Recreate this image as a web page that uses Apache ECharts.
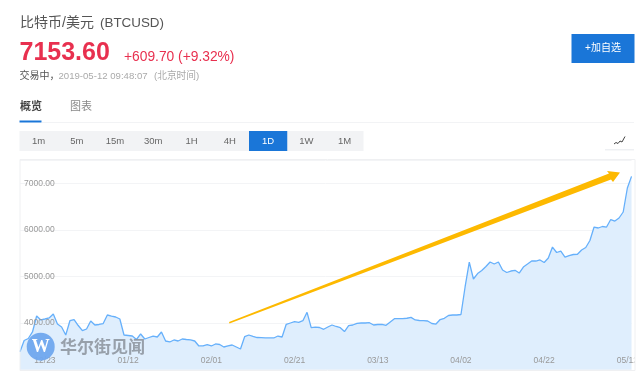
<!DOCTYPE html>
<html>
<head>
<meta charset="utf-8">
<style>
html, body { margin: 0; padding: 0; background: #fff; overflow: hidden; }
#chart { width: 641px; height: 377px; }
</style>
<script src="https://cdn.jsdelivr.net/npm/echarts@6/dist/echarts.min.js"></script>
</head>
<body>
<div id="chart"></div>
<script>
const startDate = Date.UTC(2018, 11, 17);
const prices = [
  3383, 3624, 3667, 3807, 4150, 4065, 4086, 4108, 4194, 3978,
  3914, 3742, 4049, 4075, 3946, 3834, 3871, 4043, 3957, 3968,
  3989, 4172, 4150, 4129, 4086, 3742, 3731, 3720, 3645, 3764,
  3656, 3688, 3720, 3699, 3807, 3613, 3592, 3635, 3613, 3656,
  3645, 3635, 3613, 3506, 3506, 3533, 3506, 3549, 3538, 3484,
  3506, 3527, 3484, 3441, 3705, 3742, 3710, 3688, 3684, 3678,
  3678, 3678, 3720, 3699, 3972, 4000, 4028, 4015, 4049, 4230,
  3899, 3910, 3903, 3865, 3914, 3957, 3925, 3899, 3817, 3942,
  3957, 3994, 4000, 4000, 4006, 3957, 3968, 3972, 3951, 4022,
  4092, 4092, 4092, 4102, 4122, 4065, 4054, 4049, 4043, 3989,
  3978, 4075, 4101, 4161, 4172, 4172, 4183, 4780, 5311, 4946,
  5064, 5129, 5215, 5311, 5268, 5311, 5140, 5086, 5118, 5133,
  5075, 5204, 5268, 5333, 5333, 5355, 5301, 5397, 5634, 5516,
  5548, 5419, 5451, 5473, 5477, 5569, 5623, 5774, 6064, 6043,
  6075, 6064, 6225, 6193, 6258, 6387, 6903, 7153.6
];
const days = prices.map((_, i) => {
  const d = new Date(startDate + i * 86400000);
  return String(d.getUTCMonth() + 1).padStart(2, '0') + '/' + String(d.getUTCDate()).padStart(2, '0');
});
const rangeLabels = ['1m', '5m', '15m', '30m', '1H', '4H', '1D', '1W', '1M'];
const activeRange = '1D';

const FONT = '"Liberation Sans", "Noto Sans CJK SC", sans-serif';
const BLUE = '#1a76d8';
const RED = '#e8304f';

function text(x, y, str, size, fill, extra) {
  return {
    type: 'text', x, y,
    style: Object.assign({ text: str, fontSize: size, fill, fontFamily: FONT, textVerticalAlign: 'middle' }, extra)
  };
}

function rect(x, y, width, height, fill) {
  return { type: 'rect', shape: { x, y, width, height }, style: { fill } };
}

const header = [
  text(20, 23, '比特币/美元', 14, '#555'),
  text(100, 23, '(BTCUSD)', 13.4, '#555'),
  text(19.5, 53, '7153.60', 25, RED, { fontWeight: 'bold' }),
  text(124, 57, '+609.70 (+9.32%)', 13.8, RED),
  text(19.5, 76, '交易中，', 10, '#555'),
  text(58.5, 76, '2019-05-12 09:48:07', 9.6, '#aaa'),
  text(154, 76, '(北京时间)', 9.7, '#aaa'),
  text(20, 107, '概览', 11, '#444', { fontWeight: 'bold' }),
  text(70, 107, '图表', 11, '#888'),
  rect(19.5, 120.5, 22, 2, BLUE),
  rect(42, 122, 592, 1, '#f2f3f5'),
  rect(571.5, 34, 63, 29, BLUE),
  text(603, 48.5, '+加自选', 10, '#fff', { textAlign: 'center' })
];

const rangeBar = [rect(19.5, 131, 344, 20, '#f2f3f5')];
rangeLabels.forEach((label, i) => {
  const on = label === activeRange;
  if (on) rangeBar.push(rect(19.5 + i * 38.25, 131, 38.25, 20, BLUE));
  rangeBar.push(text(38.5 + i * 38.25, 141.5, label, 9.5, on ? '#fff' : '#666', { textAlign: 'center' }));
});

const iconButton = [
  rect(605, 131, 29, 18, '#fff'),
  rect(605, 149, 29, 1.5, '#eef0f3'),
  {
    type: 'polyline',
    shape: { points: [[614, 144], [616, 142.5], [618, 143.5], [620, 141], [622, 142], [625, 136.5]] },
    style: { stroke: '#444', lineWidth: 1, fill: null }
  }
];

// the page cuts the chart canvas off at its right edge, through the last date label
const rightMask = [Object.assign(rect(634.5, 155, 7, 222, '#fff'), { z: 90 })];

const frame = [{
  type: 'rect',
  z: 91,
  shape: { x: 20, y: 159.5, width: 615, height: 211 },
  style: { fill: null, stroke: '#eff0f2', lineWidth: 1 }
}];

const arrow = [{
  type: 'polygon',
  z: 100,
  shape: { points: [[229, 322], [609, 173.5], [607, 171], [620, 172.5], [613, 182], [611, 179.5], [229.5, 323.5]] },
  style: { fill: '#fdb900' }
}];

const watermark = [
  { type: 'circle', z: 100, shape: { cx: 40.7, cy: 346.7, r: 14 }, style: { fill: '#6fa6ee', opacity: 0.95 } },
  Object.assign(text(40.7, 347, 'W', 18, '#fff', { textAlign: 'center', fontWeight: 'bold', fontFamily: '"Liberation Serif", serif' }), { z: 101 }),
  Object.assign(text(60, 347, '华尔街见闻', 17, '#8b929b', { fontWeight: 'bold', fontFamily: '"Noto Sans CJK SC", sans-serif', opacity: 0.85 }), { z: 101 })
];

const valueAxisBase = {
  type: 'value',
  min: 3000,
  max: 7500,
  interval: 1000,
  position: 'left',
  axisLine: { show: false },
  axisTick: { show: false }
};

const chart = echarts.init(document.getElementById('chart'), null, { renderer: 'canvas' });
chart.setOption({
  animation: false,
  grid: { left: 20, right: 8, top: 160.25, bottom: 7.5, containLabel: false },
  xAxis: {
    type: 'category',
    data: days,
    boundaryGap: false,
    z: 5,
    axisLine: { show: false },
    axisTick: { show: false },
    axisLabel: {
      inside: true,
      margin: 5,
      color: '#999',
      fontSize: 8.5,
      fontFamily: FONT,
      hideOverlap: false,
      alignMaxLabel: 'center',
      interval: (i) => i % 20 === 6
    }
  },
  // grid lines stay under the area, labels sit on top of it
  yAxis: [
    Object.assign({}, valueAxisBase, {
      splitLine: { lineStyle: { color: '#f3f4f6', width: 1 } },
      axisLabel: { show: false }
    }),
    Object.assign({}, valueAxisBase, {
      z: 5,
      splitLine: { show: false },
      axisLabel: {
        inside: true,
        margin: 4,
        color: '#999',
        fontSize: 8.5,
        fontFamily: FONT,
        showMinLabel: false,
        showMaxLabel: false,
        formatter: (v) => v.toFixed(2)
      }
    })
  ],
  series: [{
    type: 'line',
    data: prices,
    symbol: 'none',
    lineStyle: { color: '#66b0fb', width: 1.3 },
    areaStyle: { color: '#dfeefd', opacity: 1 }
  }],
  graphic: { elements: [].concat(header, rangeBar, iconButton, rightMask, frame, arrow, watermark) }
});
</script>
</body>
</html>
